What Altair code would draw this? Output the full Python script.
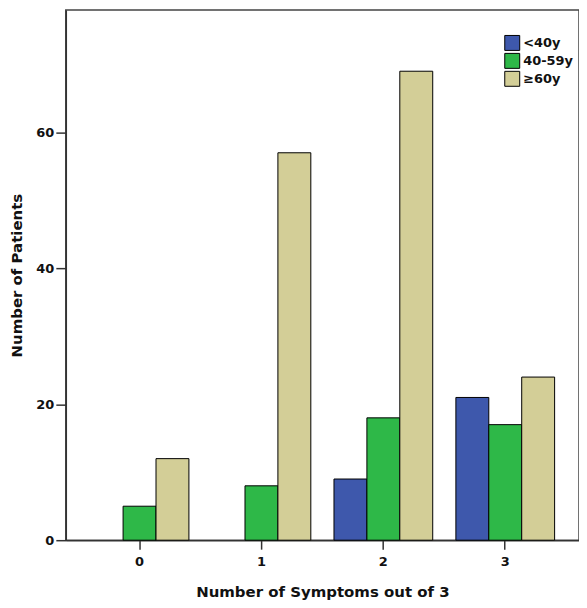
import altair as alt
import pandas as pd

groups = ["0", "1", "2", "3"]
ages = ["<40y", "40-59y", "≥60y"]
under40 = [0, 0, 9, 21]
age40_59 = [5, 8, 18, 17]
over60 = [12, 57, 69, 24]
colors = ["#3E58AC", "#2EB848", "#D3CE97"]

rows = []
for i, g in enumerate(groups):
    for a, vals in zip(ages, [under40, age40_59, over60]):
        if vals[i] > 0:
            rows.append({"symptoms": g, "age": a, "count": vals[i]})
df = pd.DataFrame(rows)

FONT = "DejaVu Sans"

chart = alt.Chart(df).mark_bar(stroke="black", strokeWidth=1).encode(
    x=alt.X("symptoms:N", sort=groups,
            scale=alt.Scale(domain=groups, paddingInner=0.19, paddingOuter=0.2),
            axis=alt.Axis(title="Number of Symptoms out of 3", labelAngle=0,
                          tickSize=9, labelPadding=6, titleY=52,
                          titleBaseline="middle")),
    xOffset=alt.XOffset("age:N", sort=ages, scale=alt.Scale(domain=ages)),
    y=alt.Y("count:Q", scale=alt.Scale(domain=[0, 78], nice=False),
            axis=alt.Axis(title="Number of Patients", values=[0, 20, 40, 60],
                          grid=False, tickSize=10, labelPadding=2,
                          titleX=-49, titleY=266, titleAngle=270,
                          titleAlign="center", titleBaseline="middle")),
    color=alt.Color("age:N", sort=ages,
                    scale=alt.Scale(domain=ages, range=colors),
                    legend=alt.Legend(title=None, orient="none",
                                      legendX=440, legendY=25,
                                      symbolType="square", symbolSize=225,
                                      symbolStrokeColor="black",
                                      symbolStrokeWidth=1,
                                      symbolOpacity=1,
                                      rowPadding=-5, padding=0,
                                      labelOffset=3)),
).properties(
    width=515, height=532,
    autosize=alt.AutoSizeParams(type="none"),
    padding={"left": 58, "top": 1, "right": 0, "bottom": 70},
).configure_view(
    stroke="#444444", strokeWidth=1.5
).configure_axis(
    domainColor="#333333", domainWidth=1.5, tickColor="#333333", tickWidth=1.5,
    labelFont=FONT, labelFontWeight="bold", labelFontSize=13, labelColor="#111111",
    titleFont=FONT, titleFontWeight="bold", titleFontSize=15, titleColor="#111111",
).configure_legend(
    labelFont=FONT, labelFontWeight="bold", labelFontSize=13, labelColor="#111111",
)

chart.save("out.html", embed_options={"renderer": "svg", "actions": False})
